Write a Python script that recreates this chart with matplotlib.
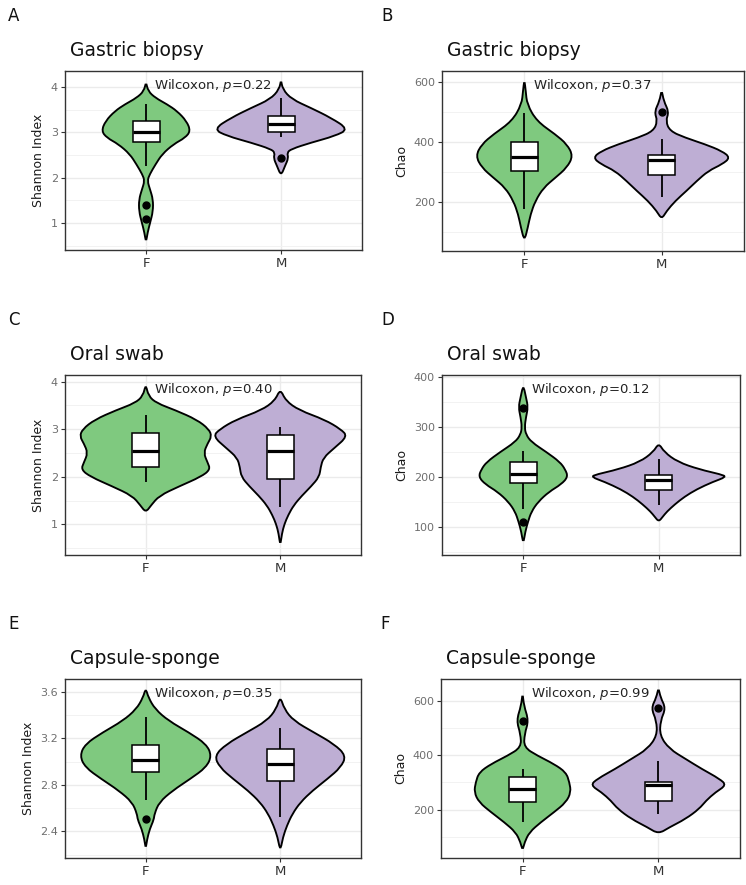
import matplotlib
matplotlib.use("Agg")
import matplotlib.pyplot as plt
from matplotlib.path import Path
from matplotlib.patches import PathPatch, Rectangle
import matplotlib.transforms as mtransforms

plt.rcParams['font.family'] = ['DejaVu Sans']

groups = ["F", "M"]
green = "#7FC97F"
purple = "#BEAED4"

# ---- A: Gastric biopsy, Shannon ----
a_f_y = [4.12, 3.91, 3.76, 3.62, 3.47, 3.25, 3.03, 2.88, 2.74, 2.52, 2.29, 2.07, 1.93, 1.74, 1.52, 1.26, 1.0, 0.79, 0.57]
a_f_w = [0.0, 0.015, 0.07, 0.155, 0.23, 0.30, 0.33, 0.29, 0.205, 0.12, 0.07, 0.027, 0.01, 0.03, 0.052, 0.052, 0.03, 0.012, 0.0]
a_m_y = [4.17, 3.95, 3.73, 3.54, 3.32, 3.07, 2.92, 2.77, 2.63, 2.55, 2.43, 2.26, 2.04]
a_m_w = [0.0, 0.012, 0.08, 0.22, 0.37, 0.50, 0.40, 0.22, 0.075, 0.045, 0.055, 0.03, 0.0]
a_f_box = [2.26, 2.79, 3.01, 3.25, 3.62]
a_m_box = [2.90, 3.01, 3.18, 3.35, 3.76]
a_f_out = [1.39, 1.08]
a_m_out = [2.43]

# ---- B: Gastric biopsy, Chao ----
b_f_y = [608, 569, 525, 469, 425, 392, 353, 314, 280, 247, 203, 158, 114, 69]
b_f_w = [0.0, 0.01, 0.02, 0.09, 0.225, 0.31, 0.355, 0.31, 0.225, 0.14, 0.08, 0.045, 0.025, 0.0]
b_m_y = [575, 536, 500, 469, 436, 414, 392, 369, 347, 325, 303, 269, 236, 203, 169, 142]
b_m_w = [0.0, 0.015, 0.053, 0.03, 0.06, 0.17, 0.315, 0.44, 0.50, 0.44, 0.34, 0.255, 0.18, 0.10, 0.036, 0.0]
b_f_box = [175, 303, 349, 400, 497]
b_m_box = [216, 289, 338, 356, 408]
b_f_out = []
b_m_out = [498]

# ---- C: Oral swab, Shannon ----
c_f_y = [3.95, 3.7, 3.55, 3.4, 3.2, 3.0, 2.85, 2.7, 2.5, 2.3, 2.15, 2.0, 1.8, 1.6, 1.4, 1.25]
c_f_w = [0.0, 0.02, 0.08, 0.22, 0.38, 0.47, 0.49, 0.46, 0.43, 0.46, 0.48, 0.41, 0.25, 0.10, 0.04, 0.0]
c_m_y = [3.85, 3.6, 3.4, 3.2, 3.0, 2.85, 2.6, 2.4, 2.2, 2.0, 1.8, 1.6, 1.4, 1.2, 1.0, 0.8, 0.55]
c_m_w = [0.0, 0.04, 0.14, 0.33, 0.45, 0.50, 0.40, 0.32, 0.30, 0.29, 0.23, 0.16, 0.10, 0.06, 0.03, 0.012, 0.0]
c_f_box = [1.90, 2.20, 2.55, 2.91, 3.29]
c_m_box = [1.36, 1.95, 2.55, 2.88, 3.05]
c_f_out = []
c_m_out = []

# ---- D: Oral swab, Chao ----
d_f_y = [385, 360, 340, 320, 300, 285, 270, 250, 230, 215, 200, 185, 170, 150, 130, 110, 90, 65]
d_f_w = [0.0, 0.02, 0.035, 0.02, 0.01, 0.02, 0.06, 0.17, 0.27, 0.31, 0.33, 0.28, 0.19, 0.11, 0.06, 0.035, 0.015, 0.0]
d_m_y = [268, 250, 230, 215, 205, 200, 190, 175, 160, 145, 130, 120, 110]
d_m_w = [0.0, 0.04, 0.14, 0.30, 0.46, 0.50, 0.40, 0.28, 0.19, 0.12, 0.06, 0.03, 0.0]
d_f_box = [136, 187, 205, 230, 252]
d_m_box = [143, 173, 193, 203, 235]
d_f_out = [338, 110]
d_m_out = []

# ---- E: Capsule-sponge, Shannon ----
e_f_y = [3.63, 3.55, 3.45, 3.35, 3.25, 3.15, 3.05, 2.95, 2.85, 2.75, 2.65, 2.55, 2.5, 2.42, 2.33, 2.25]
e_f_w = [0.0, 0.02, 0.07, 0.17, 0.32, 0.45, 0.49, 0.45, 0.33, 0.20, 0.10, 0.065, 0.06, 0.03, 0.01, 0.0]
e_m_y = [3.56, 3.45, 3.35, 3.25, 3.15, 3.05, 2.95, 2.85, 2.75, 2.65, 2.55, 2.45, 2.35, 2.23]
e_m_w = [0.0, 0.03, 0.10, 0.25, 0.40, 0.49, 0.45, 0.35, 0.24, 0.15, 0.09, 0.05, 0.02, 0.0]
e_f_box = [2.666, 2.914, 3.011, 3.143, 3.386]
e_m_box = [2.52, 2.829, 2.977, 3.109, 3.286]
e_f_out = [2.506]
e_m_out = []

# ---- F: Capsule-sponge, Chao ----
f_f_y = [630, 582, 527, 478, 429, 398, 368, 337, 300, 264, 227, 190, 154, 117, 80, 50]
f_f_w = [0.0, 0.01, 0.045, 0.015, 0.01, 0.11, 0.23, 0.32, 0.345, 0.356, 0.32, 0.23, 0.135, 0.05, 0.015, 0.0]
f_m_y = [649, 612, 572, 527, 472, 423, 386, 349, 313, 290, 264, 233, 203, 166, 135, 111]
f_m_w = [0.0, 0.015, 0.054, 0.015, 0.01, 0.08, 0.20, 0.32, 0.45, 0.50, 0.42, 0.35, 0.30, 0.20, 0.08, 0.0]
f_f_box = [154, 229, 276, 321, 349]
f_m_box = [184, 233, 290, 300, 380]
f_f_out = [524]
f_m_out = [572]

panels = [
    # letter, title, ylabel, violins, boxes, outliers, p-value, ylim, ticks, minor, tick labels, rect (x0, x1, ytop, ybot in px)
    ("A", "Gastric biopsy", "Shannon Index", (a_f_y, a_f_w, a_m_y, a_m_w), (a_f_box, a_m_box), (a_f_out, a_m_out),
     "0.22", (0.404, 4.353), [1, 2, 3, 4], [0.5, 1.5, 2.5, 3.5], ["1", "2", "3", "4"], (65, 362, 71, 250)),
    ("B", "Gastric biopsy", "Chao", (b_f_y, b_f_w, b_m_y, b_m_w), (b_f_box, b_m_box), (b_f_out, b_m_out),
     "0.37", (36, 636), [200, 400, 600], [100, 300, 500], ["200", "400", "600"], (442, 744, 71, 251)),
    ("C", "Oral swab", "Shannon Index", (c_f_y, c_f_w, c_m_y, c_m_w), (c_f_box, c_m_box), (c_f_out, c_m_out),
     "0.40", (0.355, 4.14), [1, 2, 3, 4], [0.5, 1.5, 2.5, 3.5], ["1", "2", "3", "4"], (65, 361, 375, 555)),
    ("D", "Oral swab", "Chao", (d_f_y, d_f_w, d_m_y, d_m_w), (d_f_box, d_m_box), (d_f_out, d_m_out),
     "0.12", (43, 404.7), [100, 200, 300, 400], [50, 150, 250, 350], ["100", "200", "300", "400"], (442, 740, 375, 555)),
    ("E", "Capsule-sponge", "Shannon Index", (e_f_y, e_f_w, e_m_y, e_m_w), (e_f_box, e_m_box), (e_f_out, e_m_out),
     "0.35", (2.171, 3.709), [2.4, 2.8, 3.2, 3.6], [2.2, 2.6, 3.0, 3.4], ["2.4", "2.8", "3.2", "3.6"], (65, 361, 679, 858)),
    ("F", "Capsule-sponge", "Chao", (f_f_y, f_f_w, f_m_y, f_m_w), (f_f_box, f_m_box), (f_f_out, f_m_out),
     "0.99", (22.6, 679.5), [200, 400, 600], [100, 300, 500], ["200", "400", "600"], (441, 740, 679, 858)),
]

W, H = 746, 885
fig = plt.figure(figsize=(W / 100, H / 100), dpi=100)


def violin(ax, pos, ys, ws, color):
    right = [(pos + w, y) for y, w in zip(ys, ws)]
    left = [(pos - w, y) for y, w in zip(ys[::-1], ws[::-1])]
    pts = right + left[1:-1]
    n = len(pts)
    mids = [((pts[i][0] + pts[(i + 1) % n][0]) / 2, (pts[i][1] + pts[(i + 1) % n][1]) / 2) for i in range(n)]
    verts = [mids[-1]]
    codes = [Path.MOVETO]
    for i in range(n):
        verts += [pts[i], mids[i]]
        codes += [Path.CURVE3, Path.CURVE3]
    verts.append(mids[-1])
    codes.append(Path.CLOSEPOLY)
    ax.add_patch(PathPatch(Path(verts, codes), facecolor=color, edgecolor="black", lw=1.35, zorder=2))


def box(ax, pos, stats, outs):
    lo, q1, med, q3, hi = stats
    ax.plot([pos, pos], [lo, hi], color="black", lw=1.3, zorder=3, solid_capstyle="butt")
    ax.add_patch(Rectangle((pos - 0.1, q1), 0.2, q3 - q1, facecolor="white", edgecolor="black", lw=1.1, zorder=4))
    ax.plot([pos - 0.1, pos + 0.1], [med, med], color="black", lw=2.3, zorder=5, solid_capstyle="butt")
    if outs:
        ax.plot([pos] * len(outs), outs, "o", color="black", ms=5, zorder=6)


for letter, title, ylabel, vio, boxes, outs, pval, ylim, ticks, minor, tlabels, rect in panels:
    x0, x1, yt, yb = rect
    ax = fig.add_axes([x0 / W, 1 - yb / H, (x1 - x0) / W, (yb - yt) / H])
    ax.set_xlim(0.4, 2.6)
    ax.set_ylim(*ylim)
    ax.set_xticks([1, 2])
    ax.set_xticklabels(groups, fontsize=9.5, color="#333333")
    ax.set_yticks(ticks)
    ax.set_yticklabels(tlabels, fontsize=8, color="#6e6e6e")
    ax.set_yticks(minor, minor=True)
    ax.grid(True, which="major", color="#EBEBEB", lw=1.0, zorder=0)
    ax.grid(True, which="minor", axis="y", color="#F2F2F2", lw=0.7, zorder=0)
    ax.set_axisbelow(True)
    ax.tick_params(axis="both", which="major", length=3, width=0.8, color="#333333", pad=2)
    ax.tick_params(axis="y", which="minor", length=0)
    for sp in ax.spines.values():
        sp.set_color("#333333")
        sp.set_linewidth(1.0)
    ax.set_ylabel(ylabel, fontsize=9, color="#1a1a1a", labelpad=4)

    f_y, f_w, m_y, m_w = vio
    violin(ax, 1, f_y, f_w, green)
    violin(ax, 2, m_y, m_w, purple)
    box(ax, 1, boxes[0], outs[0])
    box(ax, 2, boxes[1], outs[1])

    trans = mtransforms.blended_transform_factory(ax.transData, ax.transAxes)
    ax.text(1.06, 0.92, "Wilcoxon, $\\it{p}$=" + pval, transform=trans, ha="left", va="center",
            fontsize=9.5, color="#222222", zorder=7)

    fig.text((x0 + 5) / W, 1 - (yt - 21) / H, title, fontsize=13.5, ha="left", va="center", color="#111111")
    fig.text((x0 - 57 if x0 < 100 else x0 - 61) / W, 1 - (yt - 55) / H, letter, fontsize=12,
             ha="left", va="center", color="#111111")

fig.savefig("out.png", dpi=100)
